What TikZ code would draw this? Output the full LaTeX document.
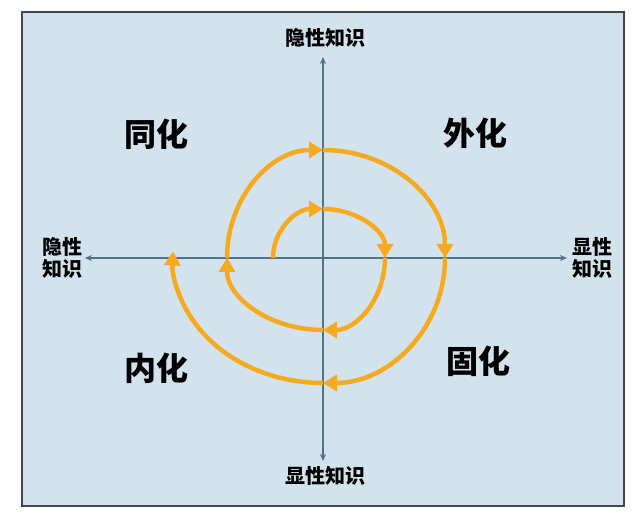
\documentclass[tikz,border=0pt]{standalone}
\usepackage{fontspec}
\newfontfamily\cjk{Noto Sans CJK SC}
\usetikzlibrary{arrows.meta}
\definecolor{bgblue}{RGB}{211,227,237}
\definecolor{framegray}{RGB}{70,70,70}
\definecolor{axisblue}{RGB}{82,115,135}
\definecolor{spiral}{RGB}{247,170,32}
\tikzset{
  axisline/.style={draw=axisblue, line width=1.4pt, {Stealth[length=7pt,width=6pt]}-{Stealth[length=7pt,width=6pt]}},
  spiralarc/.style={draw=spiral, line width=4.5pt, -{Triangle[length=14pt,width=16pt]}},
  quadlabel/.style={font=\cjk\bfseries\fontsize{32}{36}\selectfont, text=black, inner sep=0pt},
  axislabel/.style={font=\cjk\bfseries\fontsize{20}{21.5}\selectfont, text=black, inner sep=0pt, align=center},
}
\begin{document}
\begin{tikzpicture}[x=1pt,y=1pt]
\useasboundingbox (0,0) rectangle (640,518);
\fill[white] (0,0) rectangle (640,518);
\draw[fill=bgblue, draw=framegray, line width=2pt] (22,12) rectangle (624,506);
% axes
\coordinate (vt) at (323,461);
\coordinate (vb) at (323,57);
\coordinate (hl) at (85,260);
\coordinate (hr) at (567,260);
\draw[axisline] (vb) -- (vt);
\draw[axisline] (hl) -- (hr);
% axis labels
\node[axislabel] (top) at (325,480) {隐性知识};
\node[axislabel] (bottom) at (325,42) {显性知识};
\node[axislabel] (left) at (62,260) {隐性\\知识};
\node[axislabel] (right) at (592,260) {显性\\知识};
% quadrant labels
\node[quadlabel] (q1) at (156,384) {同化};
\node[quadlabel] (q2) at (475,385) {外化};
\node[quadlabel] (q3) at (156,150) {内化};
\node[quadlabel] (q4) at (478,157) {固化};
% spiral
\coordinate (p0) at (273,260);
\coordinate (p1) at (323,309);
\coordinate (p2) at (385,260);
\coordinate (p3) at (323,188);
\coordinate (p4) at (227,260);
\coordinate (p5) at (323,368);
\coordinate (p6) at (445,260);
\coordinate (p7) at (323,135);
\draw[spiralarc] (p0) arc[start angle=180, end angle=90, x radius=50, y radius=49];
\draw[spiralarc] (p1) arc[start angle=90, end angle=0, x radius=62, y radius=49];
\draw[spiralarc] (p2) arc[start angle=0, end angle=-90, x radius=62, y radius=72];
\draw[spiralarc] (p3) arc[start angle=-90, end angle=-180, x radius=96, y radius=72];
\draw[spiralarc] (p4) arc[start angle=180, end angle=90, x radius=96, y radius=108];
\draw[spiralarc] (p5) arc[start angle=90, end angle=0, x radius=122, y radius=108];
\draw[spiralarc] (p6) arc[start angle=0, end angle=-90, x radius=122, y radius=125];
\draw[spiralarc] (p7) arc[start angle=-90, end angle=-183, x radius=150, y radius=125];
\end{tikzpicture}
\end{document}
